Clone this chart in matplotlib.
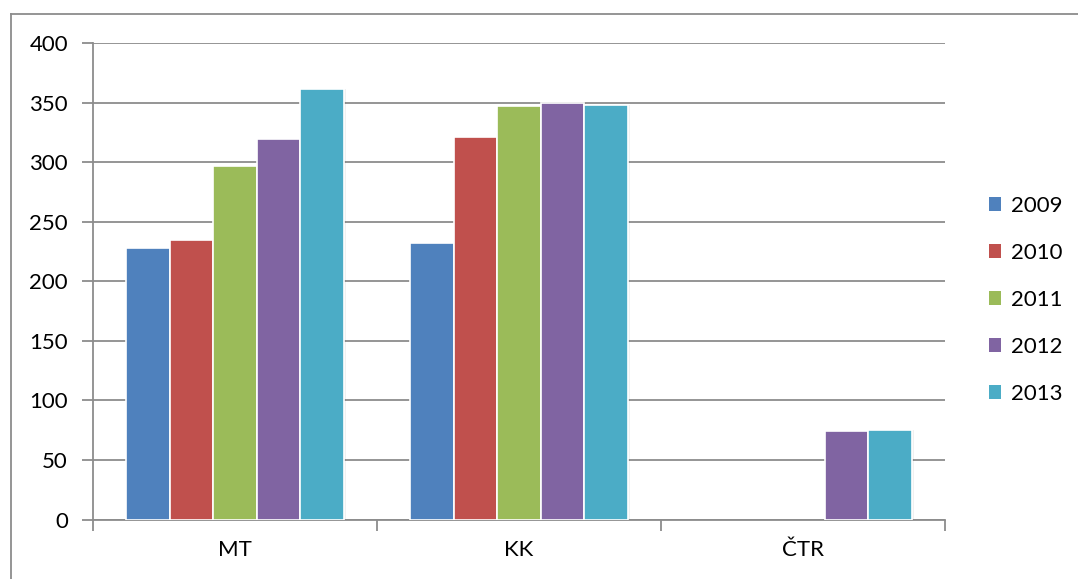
import matplotlib
matplotlib.use("Agg")
import matplotlib.pyplot as plt
import numpy as np
from matplotlib.lines import Line2D
from matplotlib.patches import Patch

categories = ["MT", "KK", "ČTR"]
years = ["2009", "2010", "2011", "2012", "2013"]
values = {
    "2009": [228, 232, 0],
    "2010": [235, 321, 0],
    "2011": [297, 347, 0],
    "2012": [319, 350, 74],
    "2013": [361, 348, 75.5],
}
colors = ["#4F81BD", "#C0504D", "#9BBB59", "#8064A2", "#4BACC6"]

W, H = 1078, 579
fig = plt.figure(figsize=(W / 100, H / 100), dpi=100)
plt.rcParams['font.family'] = ['Lato', 'DejaVu Sans']

left, right, top, bottom = 93, 945, 43, 519.5
ax = fig.add_axes([left / W, 1 - bottom / H, (right - left) / W, (bottom - top) / H])

n = len(years)
bw = 0.1535
x = np.arange(len(categories))
for i, (y, c) in enumerate(zip(years, colors)):
    offs = (i - (n - 1) / 2) * bw
    vals = np.array(values[y], dtype=float)
    keep = vals > 0
    ax.bar(x[keep] + offs + 0.006, vals[keep], bw, color="#000000", alpha=0.06,
           zorder=2, linewidth=0)
    ax.bar(x[keep] + offs, vals[keep], bw, color=c, edgecolor="white",
           linewidth=1.2, zorder=3, label=y)

ax.set_xlim(-0.5, len(categories) - 0.5)
ax.set_ylim(0, 400)
ax.set_yticks(np.arange(0, 401, 50))
ax.set_xticks(x)
ax.set_xticklabels(categories)
ax.set_xticks(np.arange(-0.5, len(categories), 1), minor=True)
ax.yaxis.grid(True, color="#8c8c8c", linewidth=1.3, zorder=0)
ax.set_axisbelow(True)
for s in ["top", "right"]:
    ax.spines[s].set_visible(False)
for s in ["left", "bottom"]:
    ax.spines[s].set_color("#8c8c8c")
    ax.spines[s].set_linewidth(1.3)
ax.tick_params(axis="y", length=8, width=1.3, color="#8c8c8c", labelsize=16, pad=10)
ax.tick_params(axis="x", which="major", length=0, labelsize=16, pad=15)
ax.tick_params(axis="x", which="minor", length=8, width=1.3, color="#8c8c8c")

# legend
handles = [Patch(facecolor=c, edgecolor="none") for c in colors]
leg = fig.legend(handles, years, loc="center left",
                 bbox_to_anchor=(978 / W, 1 - 300 / H), frameon=False,
                 fontsize=16, handlelength=0.55, handleheight=0.6,
                 handletextpad=0.45, labelspacing=1.22, borderpad=0)

# outer frame (top and left edges visible)
fig.add_artist(Line2D([10.5 / W, 1.0], [1 - 13.5 / H, 1 - 13.5 / H],
                      color="#8c8c8c", linewidth=1.3, transform=fig.transFigure))
fig.add_artist(Line2D([10.5 / W, 10.5 / W], [0, 1 - 13.5 / H],
                      color="#8c8c8c", linewidth=1.3, transform=fig.transFigure))

fig.savefig("out.png", dpi=100)
